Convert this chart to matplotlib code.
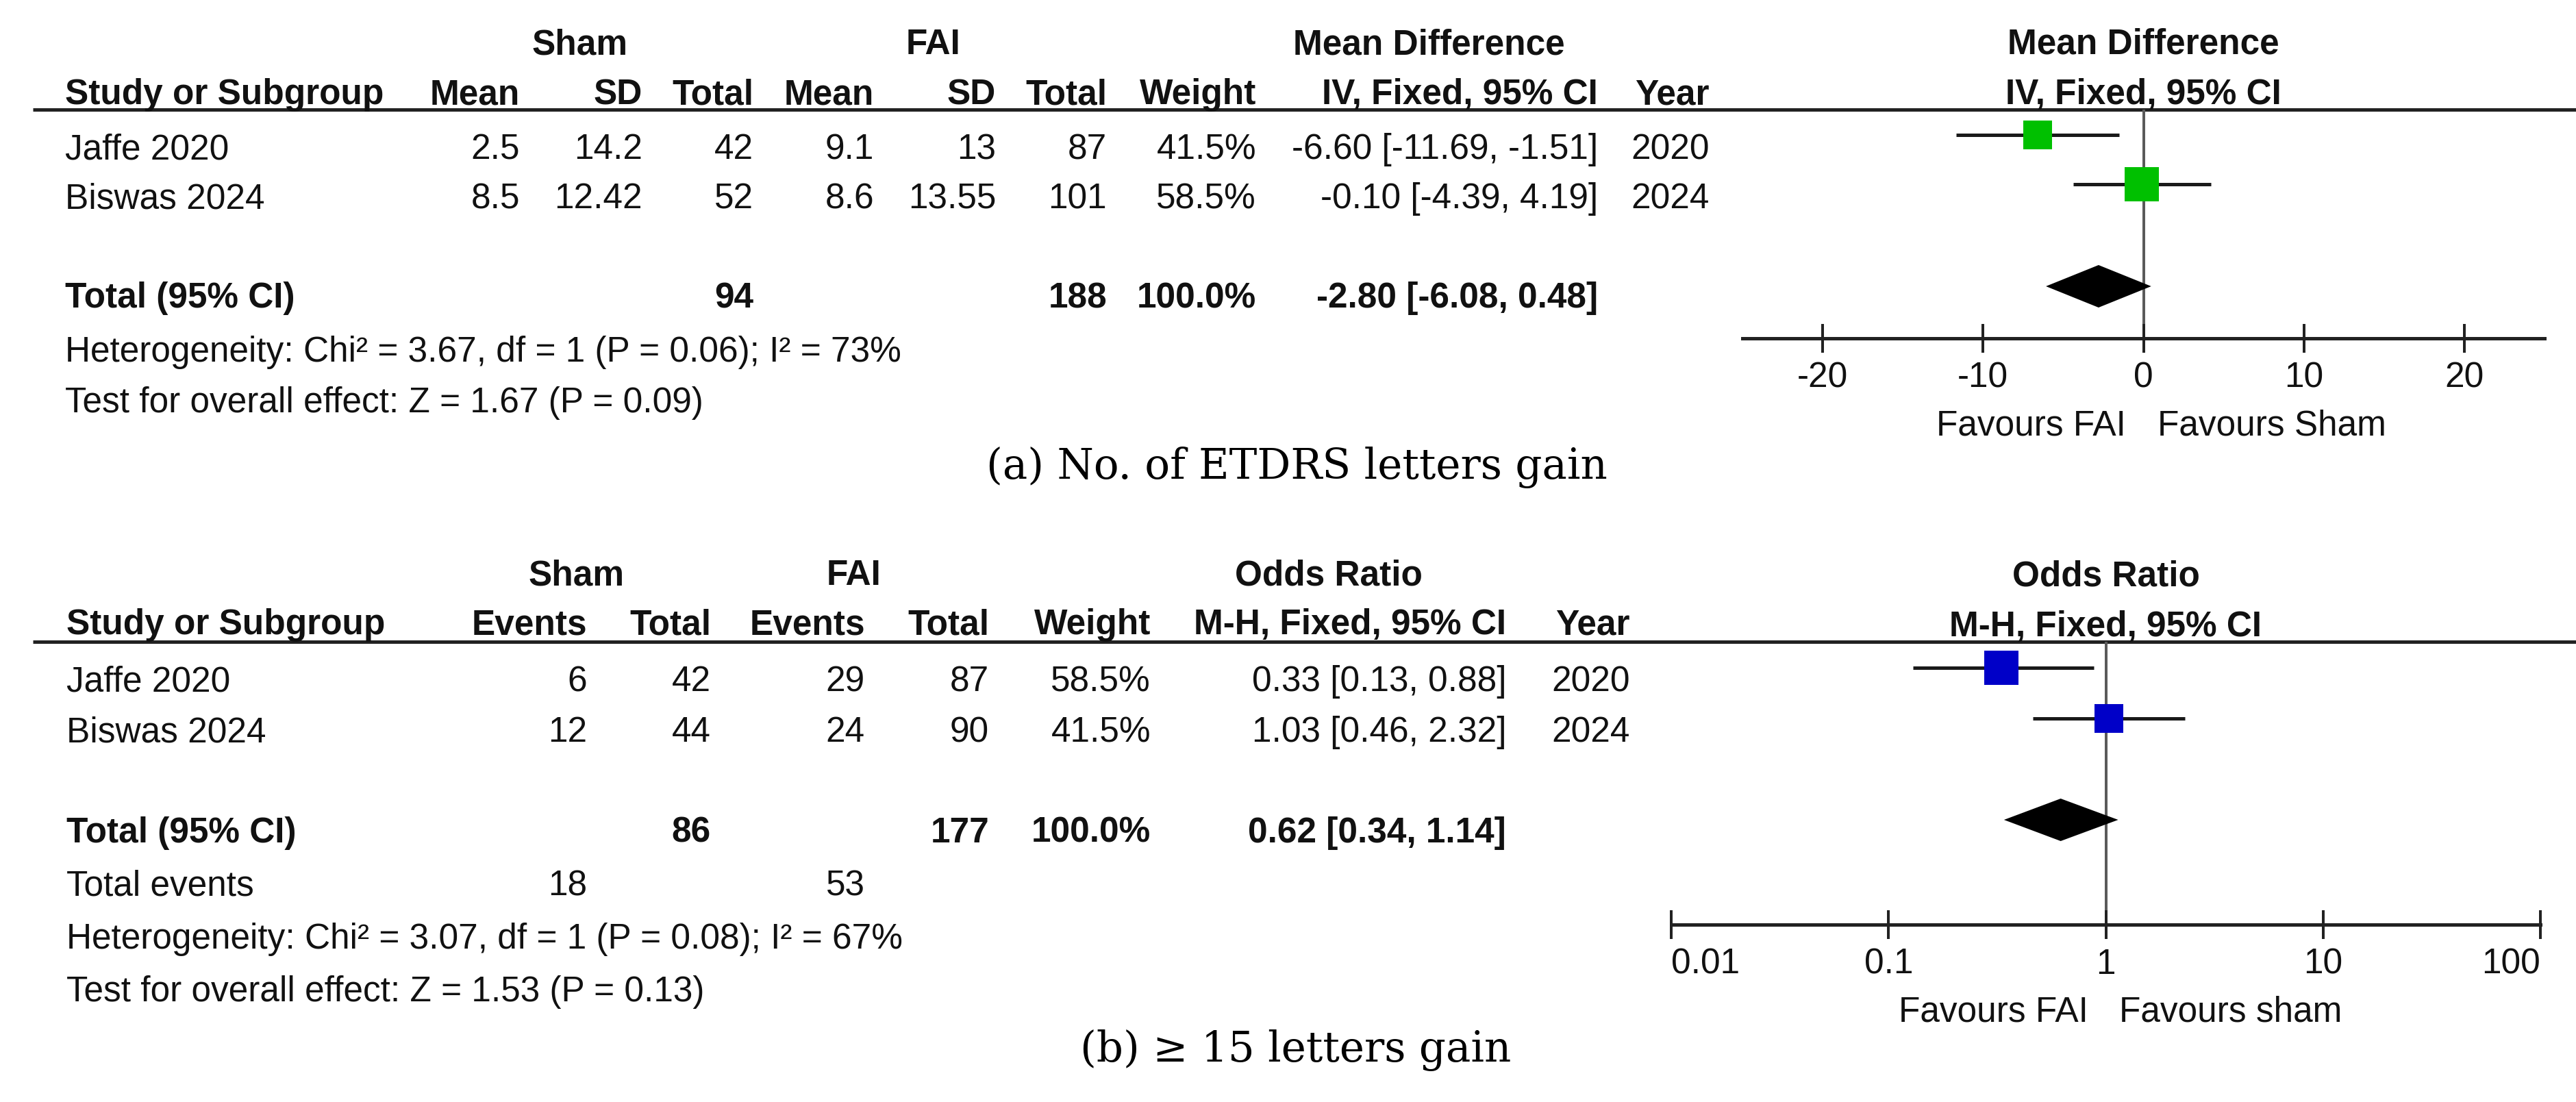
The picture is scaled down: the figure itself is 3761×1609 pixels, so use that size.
import numpy as np
import matplotlib
matplotlib.use("Agg")
import matplotlib.pyplot as plt

# ── data ────────────────────────────────────────────────────────────────────
STUDIES = ["Jaffe 2020", "Biswas 2024"]
YEARS   = [2020, 2024]

# (a) No. of ETDRS letters gain — mean difference
SHAM_MEAN = [2.5, 8.5]
SHAM_SD   = [14.2, 12.42]
SHAM_N_A  = [42, 52]
FAI_MEAN  = [9.1, 8.6]
FAI_SD    = [13, 13.55]
FAI_N_A   = [87, 101]
WEIGHT_A  = [41.5, 58.5]
MD        = [-6.60, -0.10]
MD_LO     = [-11.69, -4.39]
MD_HI     = [-1.51, 4.19]
TOTAL_A   = {"sham": 94, "fai": 188, "est": -2.80, "lo": -6.08, "hi": 0.48}
HET_A     = "Heterogeneity: Chi² = 3.67, df = 1 (P = 0.06); I² = 73%"
TEST_A    = "Test for overall effect: Z = 1.67 (P = 0.09)"
TICKS_A   = [-20, -10, 0, 10, 20]

# (b) >= 15 letters gain — odds ratio
SHAM_EV   = [6, 12]
SHAM_N_B  = [42, 44]
FAI_EV    = [29, 24]
FAI_N_B   = [87, 90]
WEIGHT_B  = [58.5, 41.5]
OR        = [0.33, 1.03]
OR_LO     = [0.13, 0.46]
OR_HI     = [0.88, 2.32]
TOTAL_B   = {"sham": 86, "fai": 177, "est": 0.62, "lo": 0.34, "hi": 1.14,
             "sham_ev": 18, "fai_ev": 53}
HET_B     = "Heterogeneity: Chi² = 3.07, df = 1 (P = 0.08); I² = 67%"
TEST_B    = "Test for overall effect: Z = 1.53 (P = 0.13)"
TICKS_B   = [0.01, 0.1, 1, 10, 100]

# ── style ───────────────────────────────────────────────────────────────────
W, H = 3761, 1609
FS = 37
INK = "#111111"
GREEN = "#00c000"
BLUE = "#0000c8"
PX = 72 / 100          # points per pixel at dpi 100

plt.rcParams["font.family"] = ["Liberation Sans", "DejaVu Sans"]
plt.rcParams["axes.unicode_minus"] = False

fig = plt.figure(figsize=(W / 100, H / 100), dpi=100)
bg = fig.add_axes([0, 0, 1, 1])
bg.set_xlim(0, W); bg.set_ylim(H, 0); bg.axis("off")


def put(x, y, s, ha="right", bold=False, size=FS):
    bg.text(x, y, s, ha=ha, va="baseline", fontsize=size, color=INK,
            fontweight="bold" if bold else "normal")


def fmt_ci(e, lo, hi):
    return f"{e:.2f} [{lo:.2f}, {hi:.2f}]"


def forest(box, ylim, est, lo, hi, wts, ys, tot, tot_y, ref, colour,
           ticks, log, title, sub, left_lab, right_lab):
    x0, x1 = box
    top, bot = ylim
    ax = fig.add_axes([x0 / W, 1 - bot / H, (x1 - x0) / W, (bot - top) / H])
    ax.patch.set_alpha(0)
    if log:
        ax.set_xscale("log")
        ax.set_xlim(ticks[0], ticks[-1])
    else:
        ax.set_xlim(-25, 25)
    ax.set_ylim(bot, top)
    for s in ("top", "left", "right"):
        ax.spines[s].set_visible(False)
    ax.spines["bottom"].set_linewidth(5 * PX)
    ax.spines["bottom"].set_color("#222222")
    ax.set_yticks([])
    ax.minorticks_off()
    ax.set_xticks(ticks)
    ax.set_xticklabels([f"{t:g}" for t in ticks])
    ax.tick_params(axis="x", direction="inout", length=42 * PX,
                   width=4 * PX, color="#222222", labelsize=FS,
                   labelcolor=INK, pad=9)
    ax.tick_params(axis="x", which="minor", length=0)
    if log:
        labs = ax.get_xticklabels()
        labs[0].set_ha("left"); labs[-1].set_ha("right")

    ax.axvline(ref, color="#5a5a5a", lw=4 * PX, zorder=1)
    for e, l, h, w, y in zip(est, lo, hi, wts, ys):
        ax.hlines(y, l, h, color="#1a1a1a", lw=5 * PX, zorder=2)
        ax.plot(e, y, marker="s", ms=6.6 * np.sqrt(w) * PX, mew=0,
                color=colour, zorder=3, clip_on=False)
    dh = 31
    ax.fill([tot["lo"], tot["est"], tot["hi"], tot["est"]],
            [tot_y, tot_y - dh, tot_y, tot_y + dh],
            color="black", lw=0, zorder=3)

    ax.annotate(title, xy=(ref, 1), xycoords=("data", "axes fraction"),
                xytext=(0, 81), textcoords="offset pixels", ha="center",
                va="baseline", fontsize=FS, fontweight="bold", color=INK)
    ax.annotate(sub, xy=(ref, 1), xycoords=("data", "axes fraction"),
                xytext=(0, 8), textcoords="offset pixels", ha="center",
                va="baseline", fontsize=FS, fontweight="bold", color=INK)
    ax.annotate(left_lab, xy=(ref, 0), xycoords=("data", "axes fraction"),
                xytext=(-26, -142), textcoords="offset pixels", ha="right",
                va="baseline", fontsize=FS, color=INK)
    ax.annotate(right_lab, xy=(ref, 0), xycoords=("data", "axes fraction"),
                xytext=(20, -142), textcoords="offset pixels", ha="left",
                va="baseline", fontsize=FS, color=INK)
    return ax


# ── panel (a) ───────────────────────────────────────────────────────────────
cols_a = [759, 938, 1100, 1276, 1454, 1616, 1834, 2333, 2496]
rows_a = [232, 304]
put(847, 79, "Sham", ha="center", bold=True)
put(1363, 79, "FAI", ha="center", bold=True)
put(2086, 79, "Mean Difference", ha="center", bold=True)
put(95, 152, "Study or Subgroup", ha="left", bold=True)
for x, s in zip(cols_a, ["Mean", "SD", "Total", "Mean", "SD", "Total",
                         "Weight", "IV, Fixed, 95% CI", "Year"]):
    put(x, 152, s, bold=True)
bg.hlines(160, 48, W, color="#222222", lw=5 * PX)

for i, y in enumerate(rows_a):
    put(95, y, STUDIES[i], ha="left")
    vals = [f"{SHAM_MEAN[i]:g}", f"{SHAM_SD[i]:g}", f"{SHAM_N_A[i]}",
            f"{FAI_MEAN[i]:g}", f"{FAI_SD[i]:g}", f"{FAI_N_A[i]}",
            f"{WEIGHT_A[i]:.1f}%", fmt_ci(MD[i], MD_LO[i], MD_HI[i]),
            f"{YEARS[i]}"]
    for x, s in zip(cols_a, vals):
        put(x, y, s)

put(95, 449, "Total (95% CI)", ha="left", bold=True)
put(cols_a[2], 449, f"{TOTAL_A['sham']}", bold=True)
put(cols_a[5], 449, f"{TOTAL_A['fai']}", bold=True)
put(cols_a[6], 449, "100.0%", bold=True)
put(cols_a[7], 449, fmt_ci(TOTAL_A["est"], TOTAL_A["lo"], TOTAL_A["hi"]),
    bold=True)
put(95, 528, HET_A, ha="left")
put(95, 602, TEST_A, ha="left")

forest((2544, 3715), (160, 494), MD, MD_LO, MD_HI, WEIGHT_A,
       [y - 35 for y in rows_a], TOTAL_A, 449 - 31, 0, GREEN, TICKS_A,
       False, "Mean Difference", "IV, Fixed, 95% CI",
       "Favours FAI", "Favours Sham")

bg.text(1893, 699, "(a) No. of ETDRS letters gain", ha="center",
        va="baseline", fontsize=44, family="DejaVu Serif", color="black")

# ── panel (b) ───────────────────────────────────────────────────────────────
cols_b = [857, 1038, 1263, 1444, 1680, 2199, 2380]
rows_b = [1009, 1083]
put(842, 854, "Sham", ha="center", bold=True)
put(1247, 854, "FAI", ha="center", bold=True)
put(1940, 854, "Odds Ratio", ha="center", bold=True)
put(97, 926, "Study or Subgroup", ha="left", bold=True)
for x, s in zip(cols_b, ["Events", "Total", "Events", "Total", "Weight",
                         "M-H, Fixed, 95% CI", "Year"]):
    put(x, 926, s, bold=True)
bg.hlines(937, 48, W, color="#222222", lw=5 * PX)

for i, y in enumerate(rows_b):
    put(97, y, STUDIES[i], ha="left")
    vals = [f"{SHAM_EV[i]}", f"{SHAM_N_B[i]}", f"{FAI_EV[i]}",
            f"{FAI_N_B[i]}", f"{WEIGHT_B[i]:.1f}%",
            fmt_ci(OR[i], OR_LO[i], OR_HI[i]), f"{YEARS[i]}"]
    for x, s in zip(cols_b, vals):
        put(x, y, s)

put(97, 1230, "Total (95% CI)", ha="left", bold=True)
put(cols_b[1], 1230, f"{TOTAL_B['sham']}", bold=True)
put(cols_b[3], 1230, f"{TOTAL_B['fai']}", bold=True)
put(cols_b[4], 1230, "100.0%", bold=True)
put(cols_b[5], 1230, fmt_ci(TOTAL_B["est"], TOTAL_B["lo"], TOTAL_B["hi"]),
    bold=True)
put(97, 1308, "Total events", ha="left")
put(cols_b[0], 1308, f"{TOTAL_B['sham_ev']}")
put(cols_b[2], 1308, f"{TOTAL_B['fai_ev']}")
put(97, 1385, HET_B, ha="left")
put(97, 1462, TEST_B, ha="left")

forest((2440, 3709), (937, 1350), OR, OR_LO, OR_HI, WEIGHT_B,
       [y - 34 for y in rows_b], TOTAL_B, 1230 - 33, 1, BLUE, TICKS_B,
       True, "Odds Ratio", "M-H, Fixed, 95% CI",
       "Favours FAI", "Favours sham")

bg.text(1892, 1550, "(b) ≥ 15 letters gain", ha="center",
        va="baseline", fontsize=44, family="DejaVu Serif", color="black")

fig.savefig("out.png", dpi=100, facecolor="white")
